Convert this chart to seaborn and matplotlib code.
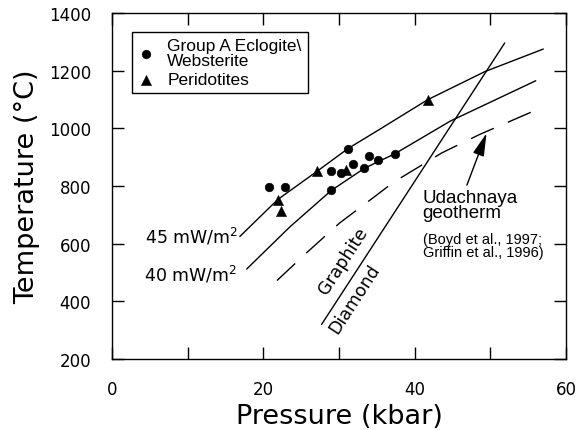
import matplotlib
matplotlib.use("Agg")
import matplotlib.pyplot as plt
import seaborn as sns

# ---------------- data ----------------
ecl_p = [20.7, 22.8, 29.0, 29.0, 30.2, 31.2, 31.9, 33.3, 34.0, 35.2, 37.4]
ecl_t = [797, 797, 851, 785, 846, 930, 877, 863, 904, 889, 912]

per_p = [21.9, 22.4, 27.1, 30.9, 41.7]
per_t = [753, 712, 851, 855, 1099]

g45_p = [16.9, 21.9, 27.1, 31.2, 35.4, 41.7, 49.3, 57.0]
g45_t = [625, 753, 851, 930, 997, 1099, 1197, 1275]

g40_p = [17.8, 23.5, 29.0, 33.4, 37.4, 44.7, 56.0]
g40_t = [512, 658, 785, 862, 912, 1025, 1165]

uda_p = [21.8, 25.7, 30.1, 34.5, 37.2, 43.6, 48.6, 56.8]
uda_t = [472, 568, 672, 759, 813, 915, 979, 1072]

gd_p = [27.7, 51.9]
gd_t = [320, 1296]

x_ticks = [0, 20, 40, 60]
x_minor = [10, 30, 50]
y_ticks = [200, 400, 600, 800, 1000, 1200, 1400]

# ---------------- style ----------------
sns.set_style("ticks")
plt.rcParams['font.family'] = ['DejaVu Sans']
plt.rcParams['text.color'] = 'black'
plt.rcParams['axes.labelcolor'] = 'black'
plt.rcParams['xtick.color'] = 'black'
plt.rcParams['ytick.color'] = 'black'
plt.rcParams['mathtext.fontset'] = 'custom'
plt.rcParams['mathtext.rm'] = 'DejaVu Sans'
plt.rcParams['mathtext.it'] = 'DejaVu Sans'

fig = plt.figure(figsize=(5.78, 4.31), dpi=100)
ax = fig.add_axes([112 / 578, 1 - 360 / 431, 454 / 578, 346 / 431])

lw = 1.0
sns.lineplot(x=g45_p, y=g45_t, sort=False, estimator=None, color="black", lw=lw, ax=ax)
sns.lineplot(x=g40_p, y=g40_t, sort=False, estimator=None, color="black", lw=lw, ax=ax)
sns.lineplot(x=gd_p, y=gd_t, sort=False, estimator=None, color="black", lw=lw, ax=ax)
sns.lineplot(x=uda_p, y=uda_t, sort=False, estimator=None, color="black", lw=lw,
             ax=ax, linestyle=(0, (18, 11)))

sns.scatterplot(x=ecl_p, y=ecl_t, marker="o", s=40, color="black", edgecolor="black",
                linewidth=0.3, ax=ax, zorder=5, label="Group A Eclogite\\\nWebsterite")
sns.scatterplot(x=per_p, y=per_t, marker="^", s=55, color="black", edgecolor="black",
                linewidth=0.3, ax=ax, zorder=6, label="Peridotites")

ax.set_xlim(0, 60)
ax.set_ylim(200, 1400)
ax.set_xticks(x_ticks)
ax.set_xticks(x_minor, minor=True)
ax.set_yticks(y_ticks)
ax.tick_params(which="both", direction="in", top=True, right=True, length=8.5,
               width=1.0, color="black", labelcolor="black", labelsize=12, pad=15)
for s in ax.spines.values():
    s.set_linewidth(1.0)
    s.set_color("black")

ax.set_xlabel("Pressure (kbar)", fontsize=19.5, labelpad=4, color="black")
ax.set_ylabel("Temperature (°C)", fontsize=19.5, labelpad=6, color="black")

leg = ax.legend(loc="upper left", bbox_to_anchor=(0.0434, 0.946), borderaxespad=0,
                frameon=True, fancybox=False, edgecolor="black", framealpha=1,
                prop={"family": "Liberation Sans", "size": 12.5}, handletextpad=0.7,
                handlelength=1.0, borderpad=0.35, labelspacing=0.25)
leg.get_frame().set_linewidth(1.0)
for t in leg.get_texts():
    t.set_linespacing(1.0)
    t.set_color("black")

# curve labels
ax.text(16.7, 605, "45 mW/m$^2$", ha="right", va="baseline", fontsize=12.5)
ax.text(16.5, 471, "40 mW/m$^2$", ha="right", va="baseline", fontsize=12.5)
ax.text(30.6, 544, "Graphite", rotation=57, ha="center", va="center", fontsize=12.5,
        rotation_mode="anchor")
ax.text(32.0, 409, "Diamond", rotation=57, ha="center", va="center", fontsize=12.5,
        rotation_mode="anchor")

ax.text(41.05, 790, "Udachnaya\ngeotherm", ha="left", va="top", fontsize=13.5,
        family="Liberation Sans", linespacing=0.85)
ax.text(41.05, 641, "(Boyd et al., 1997;\nGriffin et al., 1996)", ha="left", va="top",
        fontsize=10.5, family="Liberation Sans", linespacing=0.95)

ax.annotate("", xy=(49.5, 983), xytext=(46.9, 803),
            arrowprops=dict(arrowstyle="-|>,head_length=1.0,head_width=0.25",
                            color="black", lw=1.0, shrinkA=0, shrinkB=0,
                            mutation_scale=14))

fig.savefig("out.png", dpi=100)
